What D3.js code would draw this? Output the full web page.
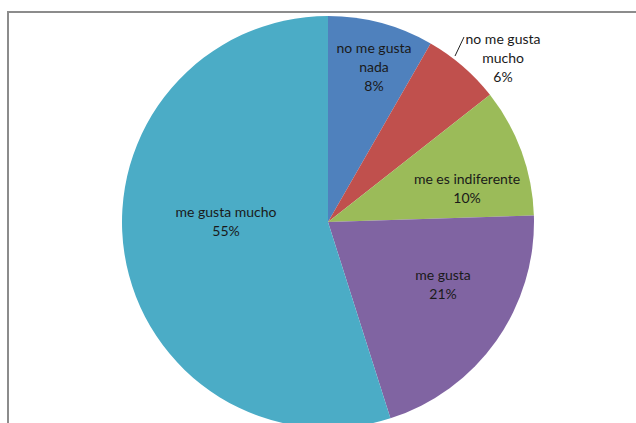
<!DOCTYPE html>
<html>
<head>
<meta charset="utf-8">
<script src="https://cdn.jsdelivr.net/npm/d3@7"></script>
<style>
  body { margin: 0; background: #fff; }
  svg text { font-family: Lato, "Open Sans", sans-serif; font-size: 14px; fill: #1a1a1a; }
</style>
</head>
<body>
<div id="chart"></div>
<script>
// data, clockwise from 12 o'clock
var categories = ["no me gusta nada", "no me gusta mucho", "me es indiferente", "me gusta", "me gusta mucho"];
var values = [8.3, 6.1, 10.1, 20.6, 54.9];
var labels = [["no me gusta", "nada", "8%"], ["no me gusta", "mucho", "6%"], ["me es indiferente", "10%"], ["me gusta", "21%"], ["me gusta mucho", "55%"]];
var colors = ["#4F81BD", "#C0504D", "#9BBB59", "#8064A2", "#4BACC6"];

var width = 636, height = 423;
var cx = 328, cy = 222, radius = 206;

// label centres relative to pie centre (Excel-ish placement)
var labelOffsets = [[46, -155], [175, -164], [139, -33], [115, 63], [-102, 0]];
var lineH = 19;

var svg = d3.select("#chart").append("svg")
    .attr("width", width)
    .attr("height", height);

// frame of the chart area
svg.append("path")
    .attr("d", "M8," + height + "V12H" + width)
    .attr("fill", "none")
    .attr("stroke", "#8c8c8c")
    .attr("stroke-width", 2);

var pie = d3.pie().sort(null).value(function (d) { return d; });
var arc = d3.arc().innerRadius(0).outerRadius(radius);
var arcs = pie(values);

var g = svg.append("g").attr("transform", "translate(" + cx + "," + cy + ")");

g.selectAll("path.slice")
    .data(arcs)
    .enter().append("path")
    .attr("class", "slice")
    .attr("d", arc)
    .attr("fill", function (d, i) { return colors[i]; });

// leader line for the small outside label
var a = (arcs[1].startAngle + arcs[1].endAngle) / 2 - 0.06;
var p0 = [Math.sin(a) * (radius + 3), -Math.cos(a) * (radius + 3)];
g.append("line")
    .attr("x1", p0[0]).attr("y1", p0[1])
    .attr("x2", p0[0] + 9).attr("y2", p0[1] - 19)
    .attr("stroke", "#222")
    .attr("stroke-width", 1);

var lab = g.selectAll("text.lab")
    .data(arcs)
    .enter().append("text")
    .attr("class", "lab")
    .attr("text-anchor", "middle")
    .attr("transform", function (d, i) {
        return "translate(" + labelOffsets[i][0] + "," + labelOffsets[i][1] + ")";
    });

lab.each(function (d, i) {
    var lines = labels[i];
    var t = d3.select(this);
    lines.forEach(function (s, k) {
        t.append("tspan")
            .attr("x", 0)
            .attr("y", (k - (lines.length - 1) / 2) * lineH)
            .attr("dy", "0.35em")
            .text(s);
    });
});
</script>
</body>
</html>
